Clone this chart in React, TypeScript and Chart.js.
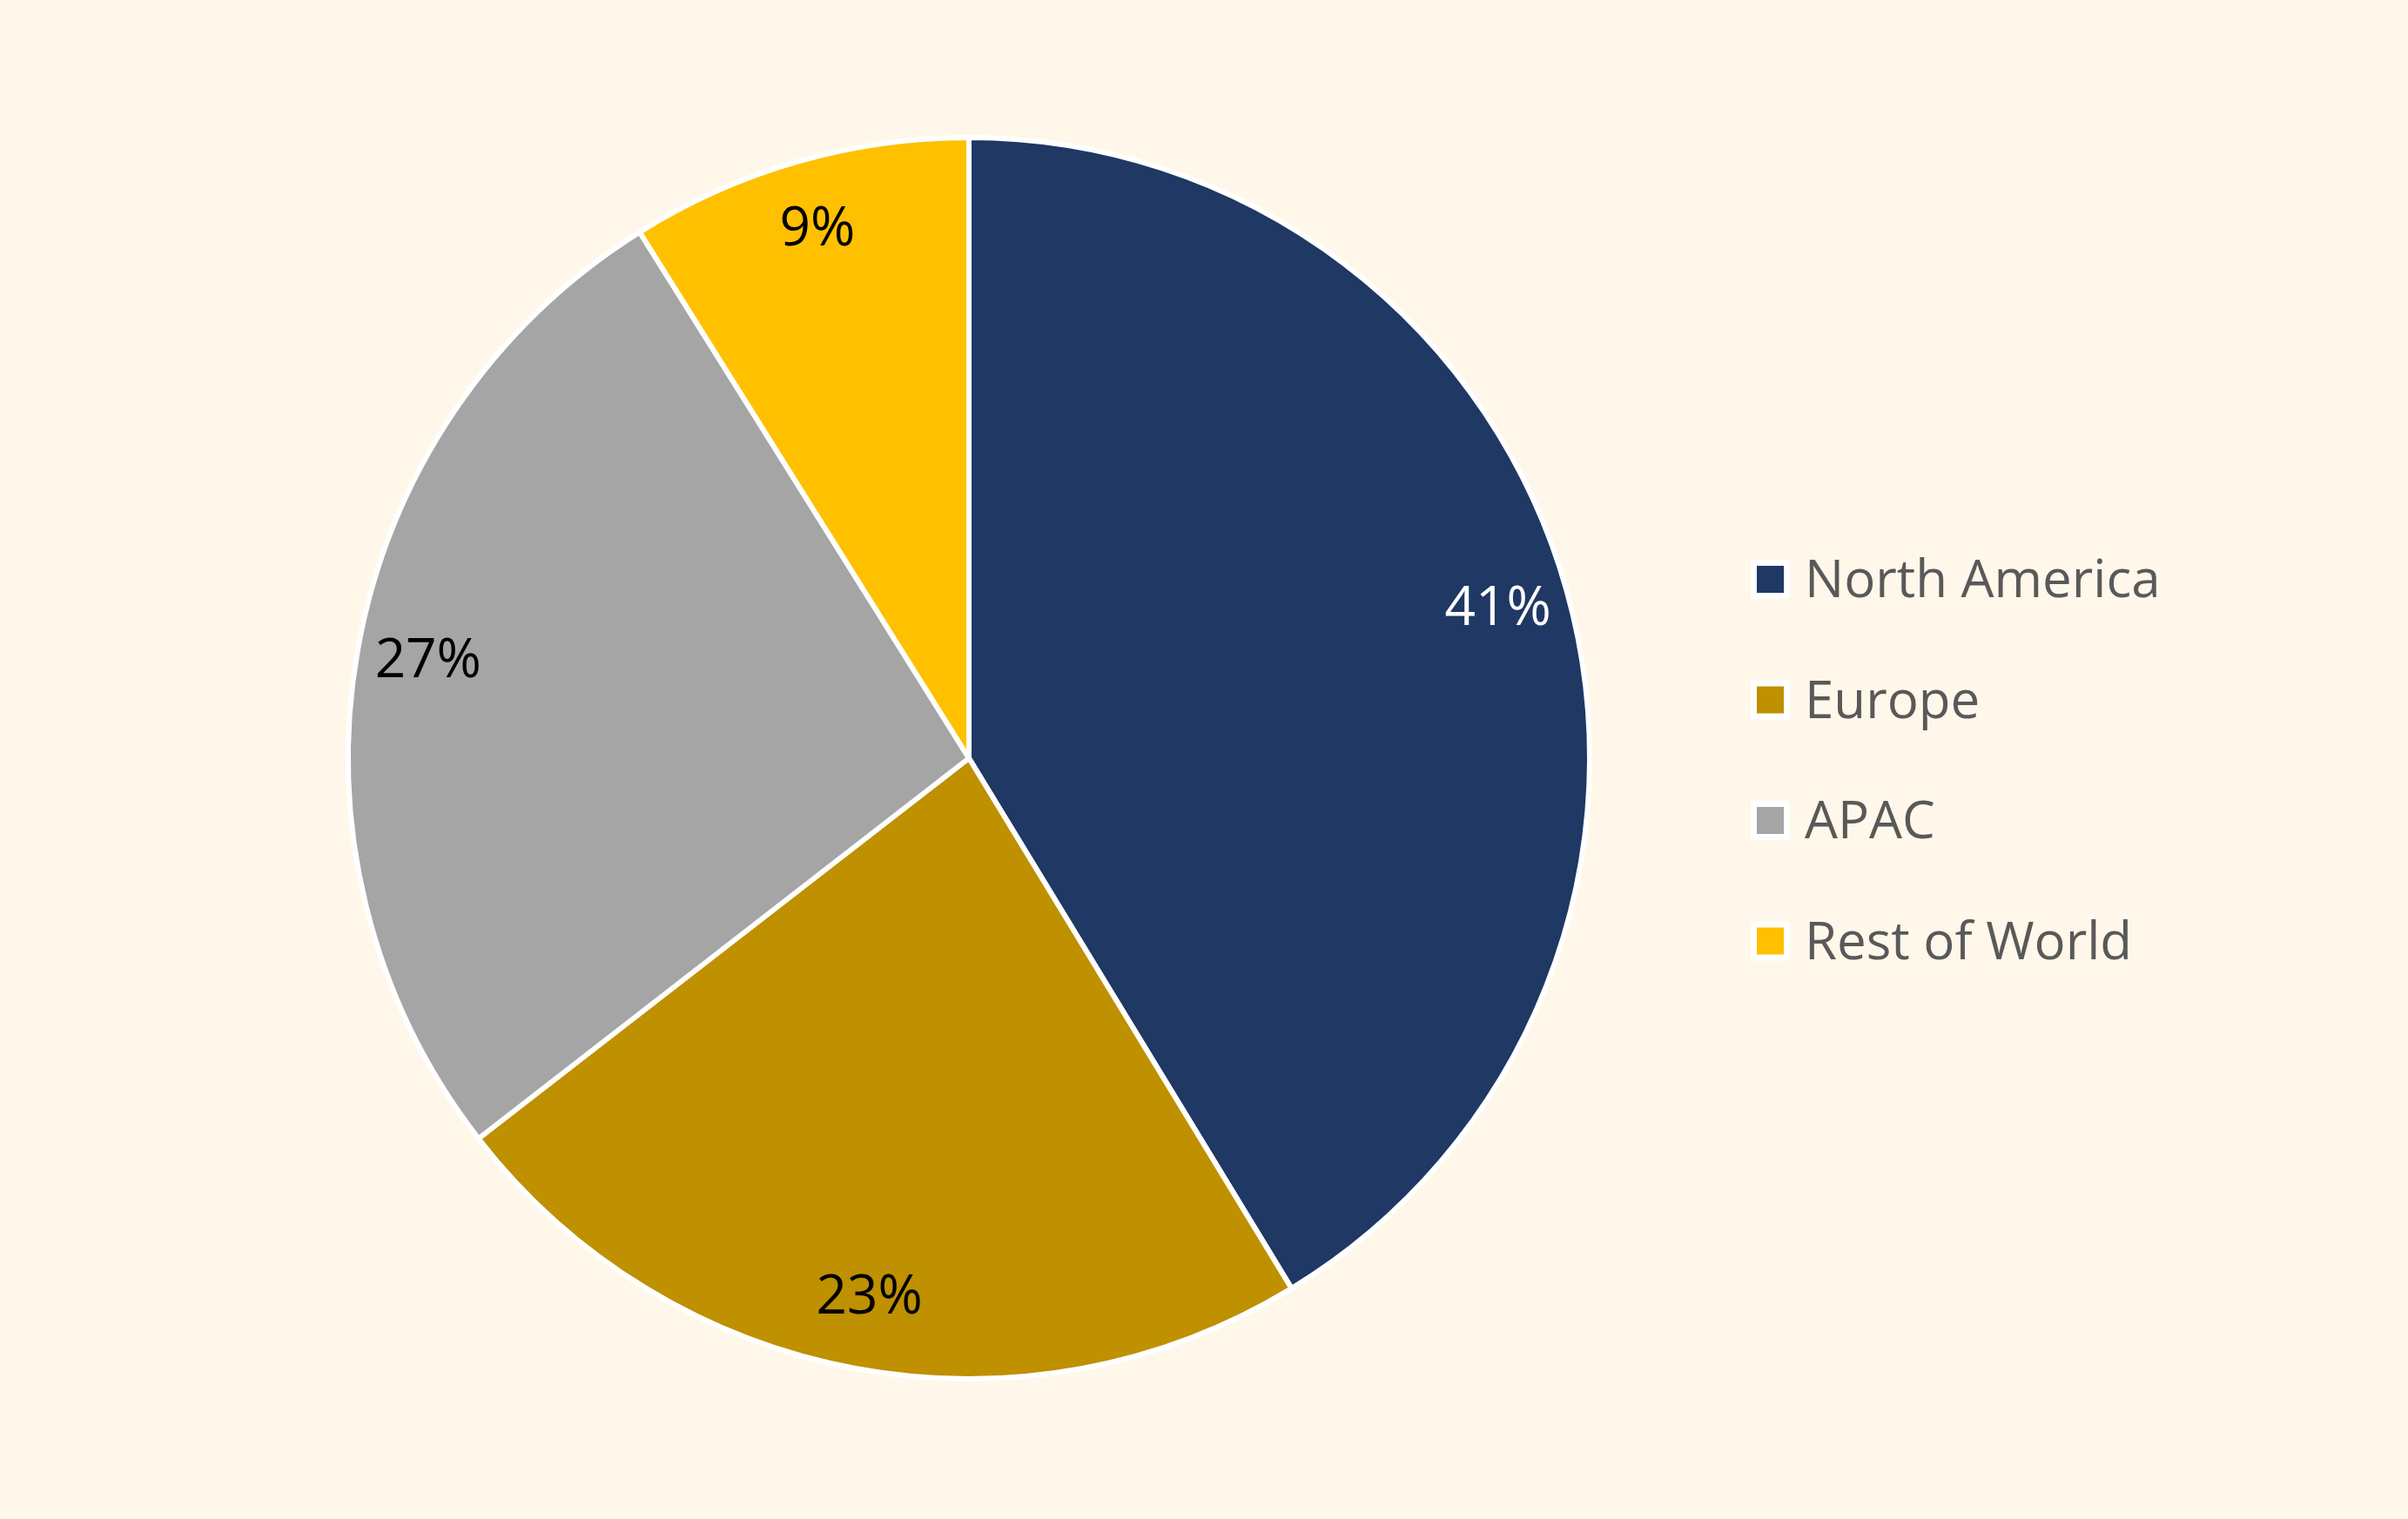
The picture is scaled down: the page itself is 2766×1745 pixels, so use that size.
import React, { useEffect, useRef } from 'react';
import { Chart, registerables } from 'chart.js';

Chart.register(...registerables);

const regions = ['North America', 'Europe', 'APAC', 'Rest of World'];
const shares = [41.3, 23.2, 26.6, 8.9];
const sliceColors = ['#1F3864', '#BF9000', '#A5A5A5', '#FFC000'];
const labelColors = ['#FFFFFF', '#000000', '#000000', '#000000'];

const BG = '#FFF7EA';
const FONT = '"Open Sans", "Noto Sans", sans-serif';

// percentage labels inside each slice
const sliceLabels = {
  id: 'sliceLabels',
  afterDatasetsDraw(chart: any) {
    const ctx = chart.ctx;
    const meta = chart.getDatasetMeta(0);
    const total = shares.reduce((a, b) => a + b, 0);
    ctx.save();
    ctx.font = `62px ${FONT}`;
    ctx.textAlign = 'center';
    ctx.textBaseline = 'middle';
    meta.data.forEach((arc: any, i: number) => {
      const { x, y, startAngle, endAngle, outerRadius } = arc.getProps(
        ['x', 'y', 'startAngle', 'endAngle', 'outerRadius'],
        true
      );
      const mid = (startAngle + endAngle) / 2;
      const r = outerRadius * 0.885;
      ctx.fillStyle = labelColors[i];
      ctx.fillText(`${Math.round((shares[i] / total) * 100)}%`, x + Math.cos(mid) * r, y + Math.sin(mid) * r);
    });
    ctx.restore();
  },
};

// legend on the right, white-edged square markers
const sideLegend = {
  id: 'sideLegend',
  afterDraw(chart: any) {
    const ctx = chart.ctx;
    ctx.save();
    ctx.font = `60px ${FONT}`;
    ctx.textAlign = 'left';
    ctx.textBaseline = 'alphabetic';
    regions.forEach((name, i) => {
      const cy = 665 + i * 138.5;
      ctx.fillStyle = '#FFFFFF';
      ctx.fillRect(2011, cy - 22, 45, 45);
      ctx.fillStyle = sliceColors[i];
      ctx.fillRect(2018, cy - 15, 31, 31);
      ctx.fillStyle = '#595959';
      ctx.fillText(name, 2073, cy + 21);
    });
    ctx.restore();
  },
};

const App: React.FC = () => {
  const canvasRef = useRef<HTMLCanvasElement>(null);
  const chartRef = useRef<Chart | null>(null);

  useEffect(() => {
    if (!canvasRef.current) return;
    if (chartRef.current) chartRef.current.destroy();

    chartRef.current = new Chart(canvasRef.current, {
      type: 'pie',
      data: {
        labels: regions,
        datasets: [
          {
            data: shares,
            backgroundColor: sliceColors,
            borderColor: '#FFFFFF',
            borderWidth: 6,
          },
        ],
      },
      options: {
        responsive: true,
        maintainAspectRatio: false,
        animation: false,
        layout: {
          padding: { left: 397, right: 937, top: 155, bottom: 158 },
        },
        plugins: {
          legend: { display: false },
          tooltip: { enabled: false },
        },
      },
      plugins: [sliceLabels, sideLegend],
    });

    return () => {
      if (chartRef.current) {
        chartRef.current.destroy();
        chartRef.current = null;
      }
    };
  }, []);

  return (
    <div
      style={{
        position: 'fixed',
        left: 0,
        top: 0,
        width: 2766,
        height: 1745,
        background: BG,
      }}
    >
      <canvas ref={canvasRef} />
    </div>
  );
};

export default App;
